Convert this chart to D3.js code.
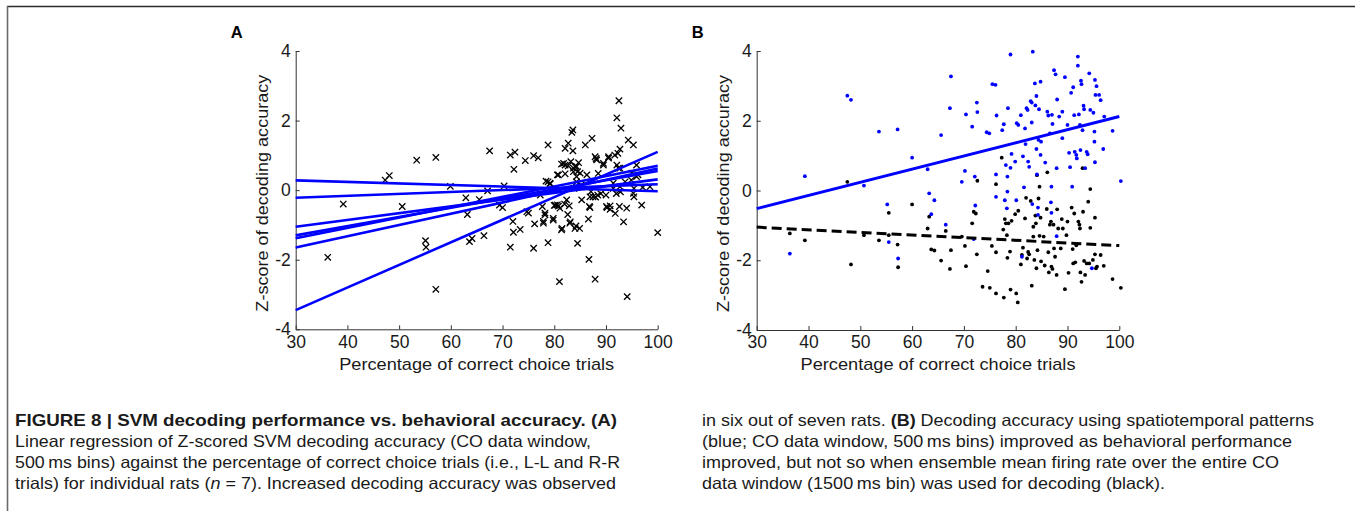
<!DOCTYPE html>
<html>
<head>
<meta charset="utf-8">
<script src="https://cdn.jsdelivr.net/npm/d3@7"></script>
<style>
  body { margin: 0; background: #fff; }
  svg { display: block; }
</style>
</head>
<body>
<svg width="1355" height="511"></svg>
<script>
// ---- data ----
const xTicks = [30, 40, 50, 60, 70, 80, 90, 100];
const yTicks = [-4, -2, 0, 2, 4];

// panel A: individual rats, [percent correct, z-score]
const aPoints = [
  [36.2,-1.93],[39.2,-0.40],[47.3,0.29],[48.1,0.42],[50.6,-0.47],[53.4,0.86],[57.1,0.94],
  [55.1,-1.45],[55.2,-1.64],[57.1,-2.85],[59.9,0.11],[62.9,-0.22],[63.2,-0.70],[63.6,-1.48],
  [64.1,-1.39],[65.5,-0.27],[66.4,-1.31],[67.1,-0.02],[67.5,1.13],[69.4,-0.43],[70.0,-0.50],
  [70.3,0.12],[71.5,1.01],[72.4,1.09],[72.2,0.60],[72.0,-0.90],[72.1,-1.21],[71.5,-1.64],
  [73.4,-1.13],[74.4,0.85],[75.0,-0.66],[76.0,0.99],[76.9,0.93],[76.2,-0.97],[76.0,-1.67],
  [77.3,-0.14],[77.7,-0.47],[77.9,-0.90],[78.2,-0.71],[78.4,0.26],[78.8,1.30],[78.8,-1.51],
  [79.2,0.20],[79.8,-0.81],[80.2,-0.43],[80.6,0.44],[80.8,-0.46],[81.0,-2.63],[81.1,-0.52],
  [81.5,-1.10],[81.8,0.77],[82.1,1.20],[82.4,-0.28],[82.6,-0.70],[82.7,1.35],[83.1,-0.91],
  [83.2,0.82],[83.4,1.66],[83.6,1.73],[83.6,1.13],[83.7,0.53],[83.8,0.05],[84.0,0.68],
  [84.2,-1.03],[84.3,0.24],[84.5,-1.53],[84.7,0.79],[84.9,-1.10],[85.3,-0.28],[86.0,1.30],
  [86.3,0.44],[86.6,-0.83],[86.7,-1.99],[86.9,-0.50],[87.1,-0.04],[87.3,1.49],[87.5,-0.19],
  [87.9,-2.56],[88.1,0.91],[88.4,-0.14],[88.5,0.48],[89.5,0.77],[90.0,-0.14],[90.2,-0.50],
  [90.5,0.96],[90.8,-0.55],[91.4,0.05],[91.8,-0.67],[92.1,2.08],[92.3,1.06],[92.4,0.63],
  [92.5,2.57],[92.6,-0.47],[92.7,1.18],[92.9,1.78],[93.4,-0.91],[93.7,0.24],[94.0,-0.52],
  [94.1,-3.06],[94.3,1.44],[94.9,0.29],[95.3,1.30],[95.3,-0.09],[95.4,-0.19],[95.9,0.72],
  [96.2,0.44],[96.9,-0.43],[97.1,0.08],[100.0,-1.22],
  [81.4,-1.14],[83.0,-0.95],[84.0,-1.10],[79.8,-0.86],[77.9,-0.95],[78.2,-0.66],[74.7,-0.62],
  [80.0,-0.44],[80.6,-0.42],[82.0,-0.40],[82.9,-0.45],[85.2,0.15],[86.8,-0.47],[86.9,-0.19],
  [88.0,-0.20],[89.0,-0.10],[90.1,-0.47],[90.8,-0.45],[92.0,-0.10],[92.8,-0.05],[95.4,0.05],
  [81.4,0.75],[82.1,0.72],[82.7,0.70],[83.7,0.63],[84.3,0.68],[84.5,0.53],[84.3,0.39],
  [85.0,0.49],[80.8,0.44],[82.1,0.47],[78.8,0.24],[79.2,0.18],[87.9,0.96],[88.2,0.87],
  [89.5,0.72],[90.5,0.92],[91.7,1.01],[92.1,0.72],[92.7,0.63],[91.4,0.20],[92.7,0.10],
  [95.0,0.49],[95.9,0.39],[98.5,0.10]
];
// panel A: fitted line per rat, value at 30 % and at 100 %
const aFitStart = [0.28, -0.22, -1.05, -1.30, -1.38, -1.65, -3.45];
const aFitEnd   = [-0.03, 0.17, 0.31, 0.55, 0.70, 0.62, 1.10];

// panel B: spatiotemporal patterns (blue)
const bBlue = [
  [36.4,-1.81],[39.3,0.41],[47.5,2.72],[48.2,2.60],[50.7,0.14],[53.6,1.69],[55.2,-0.40],
  [55.5,-1.48],[57.2,1.75],[57.3,-1.95],[60.0,0.94],[63.0,0.61],[63.3,-0.08],[63.7,-0.68],
  [64.3,-0.28],[65.6,1.59],[66.5,-0.98],[67.3,2.36],[67.5,3.27],[69.6,0.25],[70.2,0.56],
  [70.4,2.18],[71.6,1.83],[71.9,-1.39],[72.1,0.40],[72.2,-0.43],[72.5,2.52],[72.6,2.25],
  [74.4,1.67],[74.9,1.64],[75.5,3.05],[76.1,3.03],[76.2,0.46],[76.2,-0.18],[76.3,2.15],
  [77.4,1.73],[77.7,1.90],[77.9,-0.28],[78.1,0.73],[78.3,-0.51],[78.4,0.40],[78.4,-0.03],
  [78.5,2.36],[79.0,3.90],[79.0,0.65],[79.2,1.05],[79.9,0.83],[80.1,-0.28],[80.2,1.93],
  [80.5,1.88],[81.0,2.16],[81.2,-1.90],[81.4,0.98],[81.6,0.09],[81.8,1.78],[81.9,1.33],
  [82.1,2.36],[82.3,2.31],[82.4,0.83],[82.6,0.68],[82.9,2.56],[83.1,2.52],[83.1,1.95],
  [83.2,-0.39],[83.3,3.98],[83.7,3.07],[83.8,2.44],[84.0,2.71],[84.0,1.19],[84.1,0.46],
  [84.3,-0.49],[84.3,-0.70],[84.4,1.45],[84.5,2.33],[84.8,3.12],[84.8,1.02],[84.9,1.40],
  [85.7,0.80],[86.1,2.26],[86.3,2.15],[86.6,1.64],[86.8,-0.34],[86.9,0.11],[86.9,-0.64],
  [87.0,2.17],[87.1,1.91],[87.4,3.45],[87.7,3.33],[87.9,-1.31],[87.9,0.64],[88.0,2.61],
  [88.4,2.12],[89.0,2.26],[89.0,1.50],[89.5,3.25],[90.0,1.88],[90.3,1.08],[90.5,0.67],
  [90.7,2.80],[90.9,0.11],[91.1,2.96],[91.3,2.16],[91.4,1.11],[91.7,1.02],[91.8,0.92],
  [92.0,3.58],[92.0,3.84],[92.2,2.18],[92.4,1.88],[92.5,1.16],[92.6,3.15],[92.7,3.05],
  [92.9,1.73],[93.1,2.43],[93.2,2.33],[93.4,0.64],[93.7,1.11],[93.9,1.04],[94.2,3.36],
  [94.4,2.31],[94.7,-2.23],[95.0,2.23],[95.2,1.69],[95.2,1.40],[95.3,3.17],[95.3,0.81],
  [95.4,2.74],[95.6,2.99],[96.1,2.74],[96.4,2.59],[96.9,1.19],[97.1,2.12],[98.7,1.71],
  [100.3,0.27]
];
// panel B: ensemble mean firing rate (black)
const bBlack = [
  [36.4,-1.23],[39.3,-1.43],[47.5,0.25],[48.2,-2.12],[50.7,-1.28],[53.6,-1.43],[55.5,-0.64],
  [55.5,-1.28],[57.2,-1.55],[57.3,-2.20],[60.0,-0.40],[63.0,-1.09],[63.3,-0.75],[63.7,-1.69],
  [64.3,-1.72],[65.6,-2.01],[66.5,-1.16],[67.3,-2.25],[67.5,-1.71],[69.6,-1.32],[70.2,-1.59],
  [70.4,-2.17],[71.6,-0.94],[71.9,-0.61],[72.3,-0.66],[72.5,-1.83],[72.6,0.28],[73.6,-2.76],
  [74.6,-2.31],[75.0,-2.79],[75.4,-1.59],[76.2,0.18],[76.2,-1.77],[76.2,-2.95],[77.3,0.94],
  [77.6,-1.12],[77.7,-3.07],[77.9,-0.82],[78.1,-0.94],[78.3,-1.28],[78.4,-1.93],[78.6,-0.94],
  [78.9,-1.75],[79.0,-2.84],[79.2,-0.87],[80.1,-2.95],[80.4,-3.21],[79.9,-0.68],[80.5,-0.58],
  [81.0,-2.12],[81.2,-1.85],[81.4,-1.64],[81.8,-0.80],[82.0,-0.21],[82.2,-1.95],[82.4,-1.76],
  [82.6,-1.83],[82.9,-0.30],[83.1,-2.73],[83.4,-1.04],[83.4,-1.32],[83.6,-1.99],[83.8,-0.72],
  [83.9,-0.94],[84.0,-2.23],[84.1,0.44],[84.2,-1.71],[84.4,-0.23],[84.6,0.11],[84.6,-1.30],
  [84.8,-0.78],[84.9,-2.03],[85.4,-1.32],[85.6,-2.15],[86.0,-0.53],[86.1,0.52],[86.3,-1.77],
  [86.4,-2.35],[86.6,-0.98],[86.8,-0.89],[86.9,-2.18],[87.1,-2.25],[87.3,-0.98],[87.4,-1.66],
  [87.6,-1.90],[87.9,-2.42],[88.0,-0.54],[88.2,-1.09],[88.7,-1.66],[88.9,-0.82],[89.1,-1.09],
  [89.5,-2.83],[89.8,-1.28],[90.0,-0.89],[90.2,-2.36],[90.8,-0.49],[91.0,-1.68],[91.1,-2.09],
  [91.3,-0.66],[91.5,-2.06],[91.7,-1.57],[92.1,-0.89],[92.3,-0.98],[92.4,-1.09],[92.5,-2.35],
  [92.7,-2.62],[92.9,0.64],[93.0,-0.61],[93.2,-2.02],[93.4,-2.42],[93.7,-2.09],[94.0,-0.32],
  [94.2,-2.09],[94.4,0.04],[94.4,-1.07],[94.9,-1.99],[95.3,-0.78],[95.3,-1.83],[95.5,-2.23],
  [95.7,-2.18],[96.4,-1.85],[97.0,-2.16],[98.7,-2.54],[100.3,-2.79]
];
// panel B fits, value at 30 % and at 100 %
const bBlueFit  = [-0.52, 2.12];
const bBlackFit = [-1.05, -1.58];

const fitX = [30, 100];

const xTitle = 'Percentage of correct choice trials';
const yTitle = 'Z-score of decoding accuracy';

const svg = d3.select('svg');
const tickFont = '"Liberation Sans", Arial, sans-serif';
const blue = '#0000ff';

// frame round the figure
svg.append('line').attr('x1', 7).attr('x2', 1355).attr('y1', 6.5).attr('y2', 6.5)
  .attr('stroke', '#2a2a2a').attr('stroke-width', 1.6);
svg.append('line').attr('x1', 7.5).attr('x2', 7.5).attr('y1', 6).attr('y2', 511)
  .attr('stroke', '#6a6a6a').attr('stroke-width', 1.6);

function panel(letter, left, right, top, bottom, titleX) {
  const x = d3.scaleLinear().domain([30, 100]).range([left, right]);
  const y = d3.scaleLinear().domain([-4, 4]).range([bottom, top]);

  const g = svg.append('g');

  const xAxis = g.append('g')
    .attr('transform', `translate(0, ${bottom})`)
    .call(d3.axisBottom(x).tickValues(xTicks).tickSizeInner(-4).tickSizeOuter(0).tickPadding(6));
  const yAxis = g.append('g')
    .attr('transform', `translate(${left}, 0)`)
    .call(d3.axisLeft(y).tickValues(yTicks).tickSizeInner(-4).tickSizeOuter(0).tickPadding(5)
      .tickFormat(d => d < 0 ? '-' + Math.abs(d) : d));

  [xAxis, yAxis].forEach(a => {
    a.selectAll('path, line').attr('stroke', '#333').attr('stroke-width', 1);
    a.selectAll('text').attr('font-family', tickFont).attr('font-size', 17.5).attr('fill', '#1a1a1a');
  });

  g.append('text')
    .attr('x', (left + right) / 2).attr('y', 369.5)
    .attr('text-anchor', 'middle')
    .attr('font-family', tickFont).attr('font-size', 17).attr('fill', '#1a1a1a')
    .attr('textLength', 275).attr('lengthAdjust', 'spacingAndGlyphs')
    .text(xTitle);

  g.append('text')
    .attr('transform', `translate(${titleX}, ${(top + bottom) / 2 + 3}) rotate(-90)`)
    .attr('text-anchor', 'middle')
    .attr('font-family', tickFont).attr('font-size', 17).attr('fill', '#1a1a1a')
    .attr('textLength', 237).attr('lengthAdjust', 'spacingAndGlyphs')
    .text(yTitle);

  g.append('text')
    .attr('x', left - 65).attr('y', 38.3)
    .attr('font-family', tickFont).attr('font-size', 16.5).attr('font-weight', 'bold')
    .text(letter);

  return { g, x, y };
}

const line = (sx, sy) => d3.line().x(d => sx(d[0])).y(d => sy(d[1]));

// ---- panel A ----
const A = panel('A', 295.7, 657.7, 51, 329.3, 268);

const aFits = aFitStart.map((s, i) => [[fitX[0], s], [fitX[1], aFitEnd[i]]]);

A.g.append('g').selectAll('path')
  .data(aPoints)
  .join('path')
  .attr('transform', d => `translate(${A.x(d[0])}, ${A.y(d[1])})`)
  .attr('d', d3.symbol().type(d3.symbolX).size(28))
  .attr('fill', 'none').attr('stroke', '#000').attr('stroke-width', 1.3);

A.g.append('g').selectAll('path')
  .data(aFits)
  .join('path')
  .attr('d', line(A.x, A.y))
  .attr('fill', 'none').attr('stroke', blue).attr('stroke-width', 2.6);

// ---- panel B ----
const B = panel('B', 756.7, 1119.3, 51, 330, 729);

B.g.append('g').selectAll('circle')
  .data(bBlack)
  .join('circle')
  .attr('cx', d => B.x(d[0])).attr('cy', d => B.y(d[1]))
  .attr('r', 1.9).attr('fill', '#000');

B.g.append('g').selectAll('circle')
  .data(bBlue)
  .join('circle')
  .attr('cx', d => B.x(d[0])).attr('cy', d => B.y(d[1]))
  .attr('r', 1.9).attr('fill', blue);

B.g.append('path')
  .datum([[fitX[0], bBlueFit[0]], [fitX[1], bBlueFit[1]]])
  .attr('d', line(B.x, B.y))
  .attr('fill', 'none').attr('stroke', blue).attr('stroke-width', 3);

B.g.append('path')
  .datum([[fitX[0], bBlackFit[0]], [fitX[1], bBlackFit[1]]])
  .attr('d', line(B.x, B.y))
  .attr('fill', 'none').attr('stroke', '#000').attr('stroke-width', 3)
  .attr('stroke-dasharray', '10,5');

// ---- caption ----
const capFont = '"Liberation Sans Narrow", "Liberation Sans", Arial, sans-serif';
const capLines = [
  { x: 15, y: 426, w: 602, parts: [['FIGURE 8 | SVM decoding performance vs. behavioral accuracy. (A)', 'b']] },
  { x: 15, y: 447, w: 576, parts: [['Linear regression of Z-scored SVM decoding accuracy (CO data window,', '']] },
  { x: 15, y: 468, w: 605, parts: [['500\u2009ms bins) against the percentage of correct choice trials (i.e., L-L and R-R', '']] },
  { x: 15, y: 489, w: 601, parts: [['trials) for individual rats (', ''], ['n', 'i'], [' = 7). Increased decoding accuracy was observed', '']] },
  { x: 702, y: 426, w: 612, parts: [['in six out of seven rats. ', ''], ['(B)', 'b'], [' Decoding accuracy using spatiotemporal patterns', '']] },
  { x: 702, y: 447, w: 590, parts: [['(blue; CO data window, 500\u2009ms bins) improved as behavioral performance', '']] },
  { x: 702, y: 468, w: 577, parts: [['improved, but not so when ensemble mean firing rate over the entire CO', '']] },
  { x: 702, y: 489, w: 463, parts: [['data window (1500\u2009ms bin) was used for decoding (black).', '']] }
];

const cap = svg.append('g');
capLines.forEach(l => {
  const t = cap.append('text')
    .attr('x', l.x).attr('y', l.y)
    .attr('font-family', capFont).attr('font-size', 16.5).attr('fill', '#1a1a1a')
    .attr('textLength', l.w).attr('lengthAdjust', 'spacingAndGlyphs');
  l.parts.forEach(p => {
    t.append('tspan')
      .attr('font-weight', p[1] === 'b' ? 'bold' : null)
      .attr('font-style', p[1] === 'i' ? 'italic' : null)
      .text(p[0]);
  });
});
</script>
</body>
</html>
